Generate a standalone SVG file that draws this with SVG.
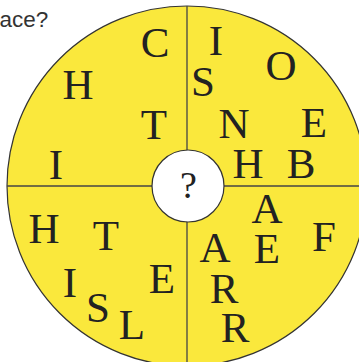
<svg xmlns="http://www.w3.org/2000/svg" width="359" height="362" viewBox="0 0 359 362">
<style>
.l{font-family:"Liberation Serif","Times New Roman",serif;font-size:43px;fill:#222;text-anchor:middle}
.q{font-family:"Liberation Serif","Times New Roman",serif;font-size:38px;fill:#222;text-anchor:middle}
.cap{font-family:"Liberation Sans",Arial,sans-serif;font-size:22.5px;fill:#333}
</style>
<rect width="359" height="362" fill="#fff"/>
<text class="cap" x="-0.5" y="27">ace?</text>
<g id="wheel">
<circle cx="187" cy="186" r="180" fill="#fae83c" stroke="#333" stroke-width="1.2"/>
</g>
<g id="connectors" stroke="#444" stroke-width="1.3">
<line x1="187" y1="6" x2="187" y2="366"/>
<line x1="7" y1="186" x2="367" y2="186"/>
</g>
<g id="center">
<circle cx="188" cy="186" r="36" fill="#fff" stroke="#333" stroke-width="1.2"/>
<text class="q" x="188.5" y="198">?</text>
</g>
<g id="quadrant-top-left">
<text class="l" x="155" y="57">C</text>
<text class="l" x="78" y="99">H</text>
<text class="l" x="154" y="139">T</text>
<text class="l" x="56" y="179">I</text>
</g>
<g id="quadrant-top-right">
<text class="l" x="216" y="55">I</text>
<text class="l" x="281" y="80">O</text>
<text class="l" x="203" y="96">S</text>
<text class="l" x="234" y="138">N</text>
<text class="l" x="314" y="137">E</text>
<text class="l" x="248" y="178">H</text>
<text class="l" x="301" y="178">B</text>
</g>
<g id="quadrant-bottom-left">
<text class="l" x="44" y="243">H</text>
<text class="l" x="106" y="250">T</text>
<text class="l" x="70" y="297">I</text>
<text class="l" x="98" y="322">S</text>
<text class="l" x="132" y="339">L</text>
<text class="l" x="162" y="293">E</text>
</g>
<g id="quadrant-bottom-right">
<text class="l" x="267" y="223">A</text>
<text class="l" x="324" y="251">F</text>
<text class="l" x="215" y="262">A</text>
<text class="l" x="267" y="263">E</text>
<text class="l" x="224" y="303">R</text>
<text class="l" x="235" y="342">R</text>
</g>
</svg>
